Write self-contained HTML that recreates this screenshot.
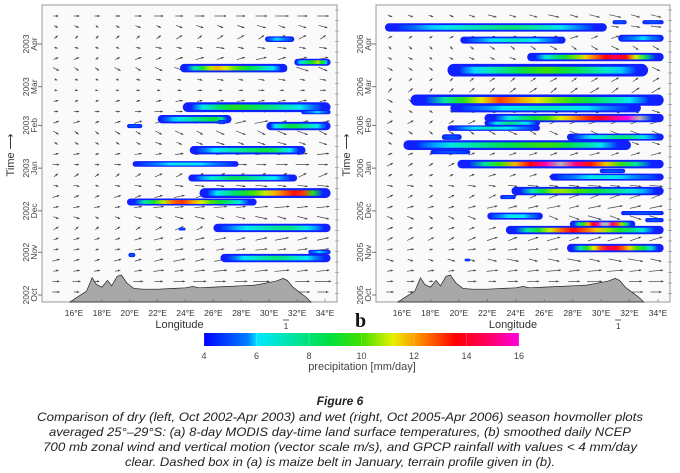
<!DOCTYPE html>
<html><head><meta charset="utf-8">
<style>
html,body{margin:0;padding:0;background:#fff;}
svg{display:block;font-family:"Liberation Sans",sans-serif;}
</style></head>
<body>
<svg id="fig" width="680" height="473" viewBox="0 0 680 473" xmlns="http://www.w3.org/2000/svg">
<defs>
<linearGradient id="cbar" x1="0" x2="1" y1="0" y2="0">
<stop offset="0" stop-color="#0000ff"/><stop offset="0.14" stop-color="#0080ff"/><stop offset="0.17" stop-color="#00e8ff"/>
<stop offset="0.4" stop-color="#00e040"/><stop offset="0.5" stop-color="#40e000"/><stop offset="0.6" stop-color="#e8f000"/>
<stop offset="0.68" stop-color="#ff9000"/><stop offset="0.8" stop-color="#ff0000"/><stop offset="0.9" stop-color="#ff0060"/>
<stop offset="1" stop-color="#ff00e0"/></linearGradient>
</defs>
<g id="panels"></g>
<rect x="204" y="333" width="315" height="13" fill="url(#cbar)"/>
<g id="cbticks" font-size="9" fill="#444" text-anchor="middle"></g>
<text x="362" y="370" font-size="11" fill="#444" text-anchor="middle">precipitation [mm/day]</text>
<text x="355" y="327" font-size="20" font-weight="bold" font-family="Liberation Serif,serif" fill="#111">b</text>
<g font-style="italic" font-size="12" fill="#222" text-anchor="middle">
<text x="340" y="405" font-weight="bold" font-size="12">Figure 6</text>
<text x="340" y="421" textLength="606" lengthAdjust="spacingAndGlyphs">Comparison of dry (left, Oct 2002-Apr 2003) and wet (right, Oct 2005-Apr 2006) season hovmoller plots</text>
<text x="340" y="436" textLength="582" lengthAdjust="spacingAndGlyphs">averaged 25°–29°S: (a) 8-day MODIS day-time land surface temperatures, (b) smoothed daily NCEP</text>
<text x="340" y="451" textLength="594" lengthAdjust="spacingAndGlyphs">700  mb zonal wind and vertical motion (vector scale m/s), and GPCP rainfall with values &lt; 4 mm/day</text>
<text x="340" y="466" textLength="430" lengthAdjust="spacingAndGlyphs">clear. Dashed box in (a) is maize belt in January, terrain profile given in (b).</text>
</g>
</svg>
<script>
// ---- data ----
const lonTicks=[16,18,20,22,24,26,28,30,32,34];
const monthTicks=[0,31,61,92,123,151,182]; // days since Oct 1
const monthNames=["Oct","Nov","Dec","Jan","Feb","Mar","Apr"];
const yearsL=["2002","2002","2002","2003","2003","2003","2003"];
const yearsR=["2005","2005","2005","2006","2006","2006","2006"];
const cbTicks=[4,6,8,10,12,14,16];
// rain bands: [day, lonStart, lonEnd, peakValue, peakLon, thicknessPx]
const rainL=[[185.5,29.7,31.8,6,30.5,4],[168.8,31.8,34.4,11,33.6,5],[164.5,23.6,31.3,12,26,6],[136.2,23.8,34.4,9.5,27.2,7],[132.6,32.3,34.4,6,33.5,3],
[127.5,22,27.3,9,26.5,6],[122.5,19.8,20.9,5,20.3,3],[125.4,26.3,26.9,5,26.6,3],[122.5,29.8,34.4,9,31.5,6],[105,24.3,32.6,9,30.2,6],
[95,20.2,27.8,6.5,24,4],[84.8,24.2,32,8.5,27.5,5],[73.9,25,34.4,14,32.6,7],[67.4,19.8,29.1,13.5,23.4,5],[48.6,26,34.4,8,31.4,6],
[47.8,23.5,24,5,23.7,2],[29,19.9,20.4,5,20.1,3],[26.8,26.5,34.4,8,30.6,6],[31.2,32.8,34.4,6,33.6,3]];
const rainR=[[194,14.8,30.4,8,24,6],[197.8,30.8,31.8,5,31.3,3],[197.8,32.9,34.4,5,33.6,3],[184.8,20.1,27.5,7,24,5],[186.2,31.2,34.4,6,33,5],
[172.5,24.8,34.4,15,31.5,6],[163,19.2,33.3,10,26,9],[141.3,16.6,34.4,13,22.5,8],[135.5,19.4,32.8,7,26,6],[128.3,21.8,34.4,17,33.5,6],
[124.6,21.8,25.7,8,23.5,4],[121,19.2,25.7,7,22,4],[114.5,18.8,20.2,5,19.5,4],[114.5,27.6,34.4,8,31.8,5],[108.7,16.1,32.1,10,26.5,7],
[103.6,18,20.8,5,19.4,3],[94.9,19.9,34.4,17,27,6],[89.9,29.9,31.7,5,30.8,3],[85.5,26.4,34.4,6.5,30,5],[75.4,23.7,34.4,11,26.6,6],
[71,22.9,24,5,23.4,3],[59.4,31.4,34.4,5,33,3],[57.2,22,25.9,6.5,24,5],[54.3,33.1,34.4,5,33.7,3],[51.4,27.8,32.4,18,30.3,5],
[47.1,23.3,34.4,14,27.8,6],[34,27.6,34.4,15,30.6,6],[25.4,20.4,20.8,5,20.6,2]];
// terrain: lon, elevation (m)
const terrLon=[15.7,16.3,16.9,17.3,17.6,18.0,18.4,18.7,19.1,19.4,19.8,20.3,21,22,23,24,24.5,25,26,27,28,29,30,30.5,31,31.3,31.7,32.2,32.6,33];
const terrElev=[0,400,800,1800,1300,1100,1600,1200,1900,2000,1400,1000,950,950,1000,1050,1150,1050,1100,1150,1200,1250,1450,1550,1750,1600,1100,700,400,0];
// wind: per-row zonal/vertical components (top->bottom), per-column scaling
const uL=[0.9,0.6,0.5,0.6,0.7,0.8,0.5,0.4,0.6,0.8,0.9,0.7,0.6,0.8,0.9,0.7,0.8,0.9,1.0,0.8,0.7,0.9,0.8,1.0,1.0,1.1,1.0];
const vL=[0,-0.2,0.3,-0.1,0.2,-0.3,-0.1,0,0.1,0,0.2,-0.3,-0.2,0.1,0,0.3,-0.1,0.2,0.1,-0.2,0.3,0.2,0.1,0.2,0.1,0,0];
const uR=[0.8,0.7,0.6,0.5,0.6,0.7,0.5,0.6,0.7,0.6,0.8,0.7,0.6,0.7,0.8,0.7,0.9,0.8,1.0,0.9,0.8,1.0,0.9,1.0,1.1,1.0,1.0];
const vR=[-0.2,-0.1,0.2,-0.3,-0.2,-0.3,0.3,0.4,-0.3,-0.2,0.3,-0.3,-0.2,0.2,0.3,0.2,-0.1,0.3,0.2,-0.3,0.2,0.3,0.1,-0.2,0.1,0,0];
const colScale=[0.5,0.5,0.4,0.5,0.6,0.7,0.8,0.8,0.9,0.9,1,1,1,1];

const NS="http://www.w3.org/2000/svg";
function mk(tag,attrs,parent){const e=document.createElementNS(NS,tag);for(const k in attrs)e.setAttribute(k,attrs[k]);parent.appendChild(e);return e;}
const cstops=[[4,[0,0,255]],[5.5,[0,128,255]],[6,[0,232,255]],[8.8,[0,224,64]],[10,[64,224,0]],[11.2,[232,240,0]],[12.2,[255,144,0]],[13.6,[255,0,0]],[14.8,[255,0,96]],[16,[255,0,224]]];
function cmap(v){
  if(v>17.5)return "#111";
  if(v>16)return "#b4b4b4";
  if(v<=4)return "rgb(0,0,255)";
  for(let i=1;i<cstops.length;i++){if(v<=cstops[i][0]){const a=cstops[i-1],b=cstops[i];const t=(v-a[0])/(b[0]-a[0]);
    const c=a[1].map((x,j)=>Math.round(x+(b[1][j]-x)*t));return `rgb(${c})`;}}
  return "rgb(255,0,224)";
}
function panel(id,fx,fw,x16,x34,years,rain,u,v){
  const g=mk("g",{},document.getElementById("panels"));
  
  
  const top=5,bot=302;
  const xs=lon=>x16+(lon-16)*(x34-x16)/18;
  const ys=d=>295-d*(295-44)/182;
  const fr=mk("rect",{x:fx,y:top,width:fw,height:bot-top,fill:"#fafafa",stroke:"#999","stroke-width":1},g);
  
  
  // wind arrows
  const ag=mk("g",{stroke:"#444","stroke-width":0.7,fill:"#444"},g);
  
  
  for(let r=0;r<u.length;r++){
    const y=16+r*(292-16)/(u.length-1);
    for(let c=0;c<colScale.length;c++){
      const x=fx+14+c*(fw-28)/(colScale.length-1);
      const uu=u[r]*colScale[c]*(1+0.15*((r+c)%3-1)), vv=v[r]*(0.6+0.4*colScale[c]);
      const L=13, dx=uu*L, dy=-vv*L;
      const x1=x-dx/2,y1=y-dy/2,x2=x+dx/2,y2=y+dy/2;
      const ln=mk("line",{x1:x1,y1:y1,x2:x2,y2:y2},ag);
      
      
      const len=Math.hypot(dx,dy)||1,ux=dx/len,uy=dy/len;
      mk("polygon",{points:`${x2},${y2} ${x2-ux*2.5-uy*1.1},${y2-uy*2.5+ux*1.1} ${x2-ux*2.5+uy*1.1},${y2-uy*2.5-ux*1.1}`,stroke:"none"},ag);
    }
  }
  // terrain
  let d=`M${xs(terrLon[0])},${bot}`;
  terrLon.forEach((l,i)=>{d+=` L${xs(l)},${bot-terrElev[i]*0.0135}`;});
  d+=` L${xs(terrLon[terrLon.length-1])},${bot}Z`;
  const tp=mk("path",{d:d,fill:"#a8a8a8",stroke:"#222","stroke-width":0.7},g);
  
  
  // rain bands
  rain.forEach((b,k)=>{
    const [day,l0,l1,pv,pl,th0]=b;
    const th=th0*1.4;
    const gid=id+"g"+k;
    const lg=mk("linearGradient",{id:gid,x1:0,x2:1,y1:0,y2:0},document.querySelector("defs"));
    const pf=(pl-l0)/(l1-l0);
    for(let i=0;i<=12;i++){const t=i/12;let s=t<=pf?(pf>0?t/pf:1):(1-pf>0?(1-t)/(1-pf):1);
      s=Math.pow(Math.max(0,Math.min(1,s)),0.8);mk("stop",{offset:t,"stop-color":cmap(4.6+(pv-4.6)*s)},lg);}
    const x0=xs(l0),w=xs(l1)-x0,y=ys(day);
    const r=mk("rect",{x:x0,y:y-th/2,width:w,height:th,rx:Math.min(th/2,w/2),fill:"#1020ff"},g);
    
    
    const ih=Math.max(1,th*0.55);
    const r2=mk("rect",{x:x0+w*0.06,y:y-ih/2,width:w*0.88,height:ih,rx:ih/2,fill:`url(#${gid})`},g);
    
    
  });
  // right side small tick marks
  for(let i=0;i<28;i++){mk("line",{x1:fx+fw-2,x2:fx+fw+2,y1:10+i*10.5,y2:10+i*10.5,stroke:"#888","stroke-width":0.6},g);}
  // x ticks
  lonTicks.forEach(l=>{
    const t=mk("text",{x:xs(l),y:316,"font-size":8.5,fill:"#333","text-anchor":"middle"},g);
    t.textContent=l+"°E";
    
    
    mk("line",{x1:xs(l),x2:xs(l),y1:bot,y2:bot-3,stroke:"#666","stroke-width":0.6},g);
  });
  const xt=mk("text",{x:fx+fw/2-10,y:328,"font-size":11,fill:"#333","text-anchor":"middle"},g);
  xt.textContent="Longitude";
  
  
  // y ticks
  monthTicks.forEach((m,i)=>{
    const y=ys(m);
    const t1=mk("text",{x:0,y:0,"font-size":8.5,fill:"#444","text-anchor":"middle",transform:`translate(${fx-13},${y}) rotate(-90)`},g);
    t1.textContent=years[i];
    
    
    const t2=mk("text",{x:0,y:0,"font-size":8.5,fill:"#444","text-anchor":"middle",transform:`translate(${fx-5},${y}) rotate(-90)`},g);
    t2.textContent=monthNames[i];
    
    
    mk("line",{x1:fx-4,x2:fx,y1:y,y2:y,stroke:"#555","stroke-width":0.8},g);
  });
  // vector scale
  const sx=xs(31.2);
  mk("line",{x1:sx-3,x2:sx+3,y1:320,y2:320,stroke:"#333","stroke-width":0.8},g);
  const s1=mk("text",{x:sx,y:329,"font-size":8,fill:"#333","text-anchor":"middle"},g);
  s1.textContent="1";
  
  
}
panel("left-panel",42,295,74,325,yearsL,rainL,uL,vL);
panel("right-panel",376,294,402,658,yearsR,rainR,uR,vR);
// y-axis titles
[[10,155,"left"],[346,155,"right"]].forEach(p=>{
  const t=mk("text",{x:0,y:0,"font-size":11,fill:"#333","text-anchor":"middle",transform:`translate(${p[0]+4},${p[1]}) rotate(-90)`},document.getElementById("panels"));
  t.textContent="Time ⟶";
  
  
});
// colorbar ticks
const cb=document.getElementById("cbticks");
cbTicks.forEach(v=>{
  const x=204+(v-4)/12*315;
  const t=mk("text",{x:x,y:359},cb);
  t.textContent=v;
  
  
  mk("line",{x1:x,x2:x,y1:333,y2:346,stroke:"#fff","stroke-width":0.5,"stroke-opacity":0.4},document.getElementById("fig"));
});
</script>
</body></html>
